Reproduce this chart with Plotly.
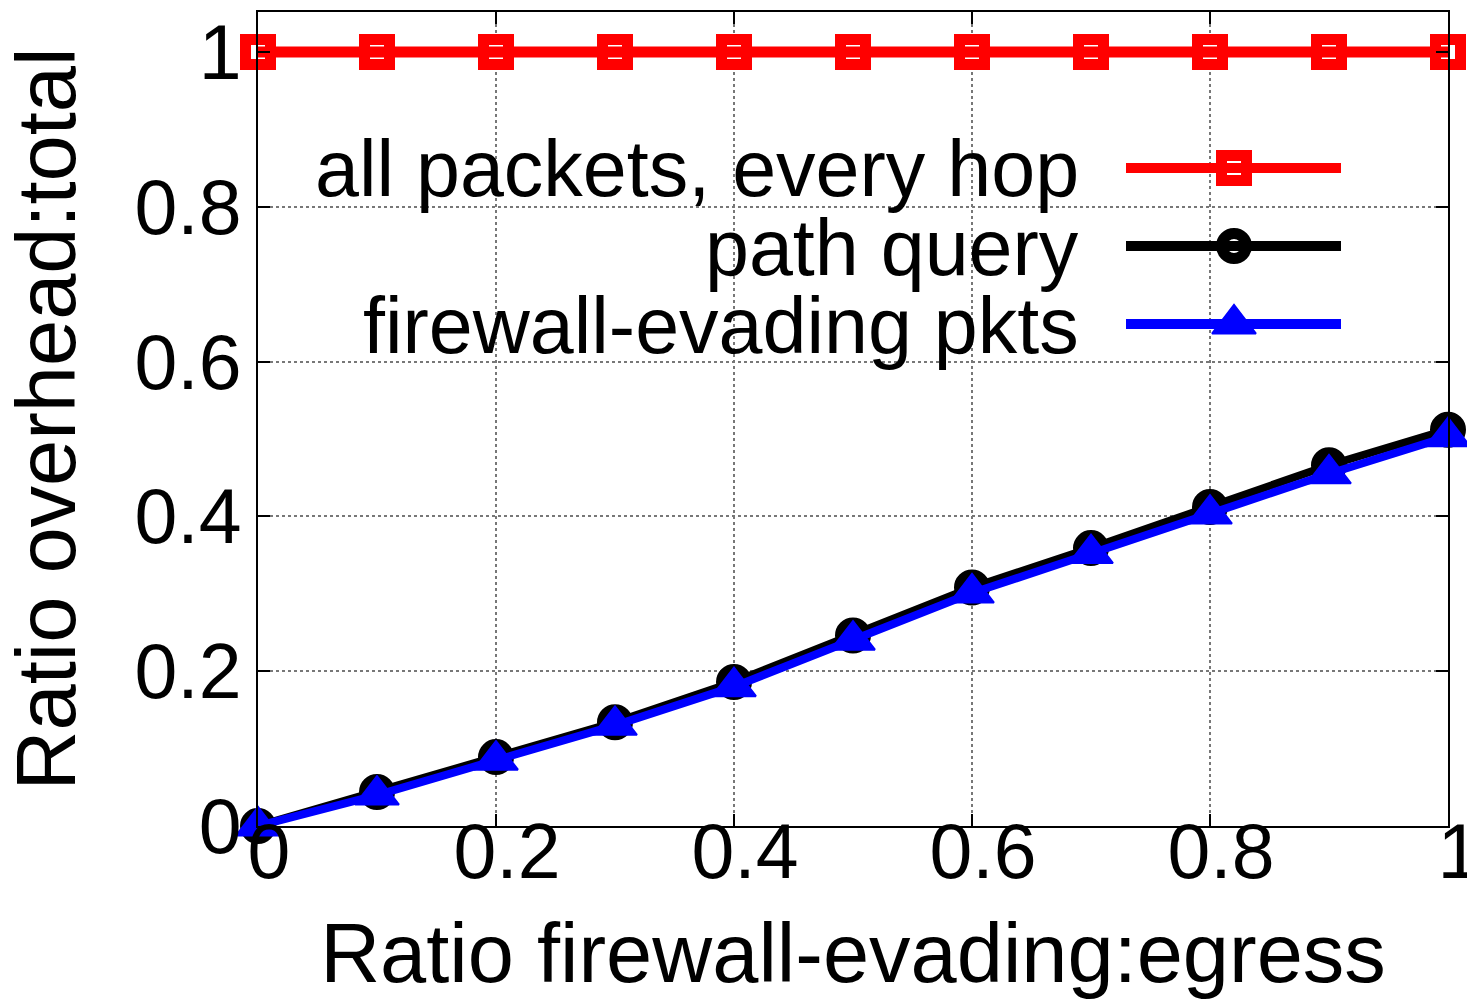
import plotly.graph_objects as go

# ---- data ----
x_ratio = [0.0, 0.1, 0.2, 0.3, 0.4, 0.5, 0.6, 0.7, 0.8, 0.9, 1.0]
all_packets = [1.0, 1.0, 1.0, 1.0, 1.0, 1.0, 1.0, 1.0, 1.0, 1.0, 1.0]
path_query = [0.0, 0.044, 0.089, 0.134, 0.186, 0.246, 0.308, 0.359, 0.412, 0.466, 0.512]
fw_evading = [0.0, 0.040, 0.085, 0.130, 0.180, 0.240, 0.301, 0.352, 0.403, 0.455, 0.503]

series_names = ["all packets, every hop", "path query", "firewall-evading pkts"]
x_ticks = [0, 0.2, 0.4, 0.6, 0.8, 1]
x_ticktext = ["0", "0.2", "0.4", "0.6", "0.8", "1"]
y_ticks = [0, 0.2, 0.4, 0.6, 0.8, 1]
y_ticktext = ["0", "0.2", "0.4", "0.6", "0.8", "1"]
x_title = "Ratio firewall-evading:egress"
y_title = "Ratio overhead:total"

FONT = "Liberation Sans, Arial, Helvetica, sans-serif"
W, H = 1467, 1001
ML, MR, MT, MB = 258, 19, 12, 175

styles = [
    dict(color="#ff0000", symbol="square-open", size=25, lw=11, mlw=11),
    dict(color="#000000", symbol="circle-open", size=25, lw=8, mlw=11),
    dict(color="#0000ff", symbol="triangle-up", size=38, lw=8, mlw=2),
]
ys = [all_packets, path_query, fw_evading]

fig = go.Figure()
for name, yv, st in zip(series_names, ys, styles):
    mk = dict(symbol=st["symbol"], size=st["size"], color=st["color"],
              line=dict(width=st["mlw"], color=st["color"]))
    if st["symbol"] == "circle-open":
        # on the plot the circles look filled (covered by triangles)
        mk = dict(symbol="circle", size=st["size"] + 9, color=st["color"],
                  line=dict(width=2, color=st["color"]))
    fig.add_trace(go.Scatter(
        x=x_ratio, y=yv, mode="lines+markers", name=name,
        line=dict(color=st["color"], width=st["lw"]),
        marker=mk, cliponaxis=False, showlegend=False,
    ))

# ---- custom gnuplot-style key (text right-aligned, sample on right) ----
pw, ph = W - ML - MR, H - MT - MB
def px_x(p):
    return (p - ML) / pw
def px_y(p):
    return (H - MB - p) / ph

key_rows = [168, 246, 324]
key_text_right = 1081
key_line = (1126, 1341)
key_mark = 1234

# white box that hides grid lines behind the key
fig.add_shape(type="rect", xref="paper", yref="paper",
              x0=px_x(262), x1=px_x(1388), y0=px_y(368), y1=px_y(128),
              fillcolor="white", line=dict(width=0), layer="between")

for name, st, ry in zip(series_names, styles, key_rows):
    fig.add_annotation(text=name, xref="paper", yref="paper",
                       x=px_x(key_text_right), y=px_y(ry + 1),
                       xanchor="right", yanchor="middle", showarrow=False,
                       font=dict(family=FONT, size=79, color="black"))
    fig.add_trace(go.Scatter(
        x=[px_x(key_line[0]), px_x(key_line[1])],
        y=[px_y(ry)] * 2, xaxis="x2", yaxis="y2",
        mode="lines", showlegend=False, hoverinfo="skip",
        line=dict(color=st["color"], width=10),
        cliponaxis=False,
    ))
    fig.add_trace(go.Scatter(
        x=[px_x(key_mark)], y=[px_y(ry)], xaxis="x2", yaxis="y2",
        mode="markers", showlegend=False, hoverinfo="skip",
        marker=dict(symbol=st["symbol"], size=st["size"], opacity=1,
                    color=st["color"], line=dict(width=st["mlw"], color=st["color"])),
        cliponaxis=False,
    ))

axis_common = dict(
    showline=True, linecolor="black", linewidth=2, mirror="allticks",
    ticks="inside", ticklen=12, tickwidth=2, tickcolor="black",
    showgrid=True, gridcolor="#777777", gridwidth=1.5, griddash="dot",
    zeroline=False, automargin=False, ticklabeloverflow="allow",
    tickfont=dict(family=FONT, size=77, color="black"),
)

fig.update_layout(
    width=W, height=H,
    margin=dict(l=ML, r=MR, t=MT, b=MB),
    paper_bgcolor="white", plot_bgcolor="white",
    showlegend=False,
    xaxis=dict(range=[0, 1], tickvals=x_ticks, ticktext=x_ticktext,
               title=dict(text=x_title, font=dict(family=FONT, size=83, color="black"), standoff=30),
               ticklabelstandoff=-42, ticklabelshift=11, **axis_common),
    yaxis=dict(range=[0, 1.0516], tickvals=y_ticks, ticktext=y_ticktext,
               title=dict(text=y_title, font=dict(family=FONT, size=83, color="black"), standoff=34),
               ticklabelstandoff=-1, **axis_common),
    xaxis2=dict(range=[0, 1], overlaying="x", visible=False, fixedrange=True),
    yaxis2=dict(range=[0, 1], overlaying="y", visible=False, fixedrange=True),
)

fig.write_html("out.html")
